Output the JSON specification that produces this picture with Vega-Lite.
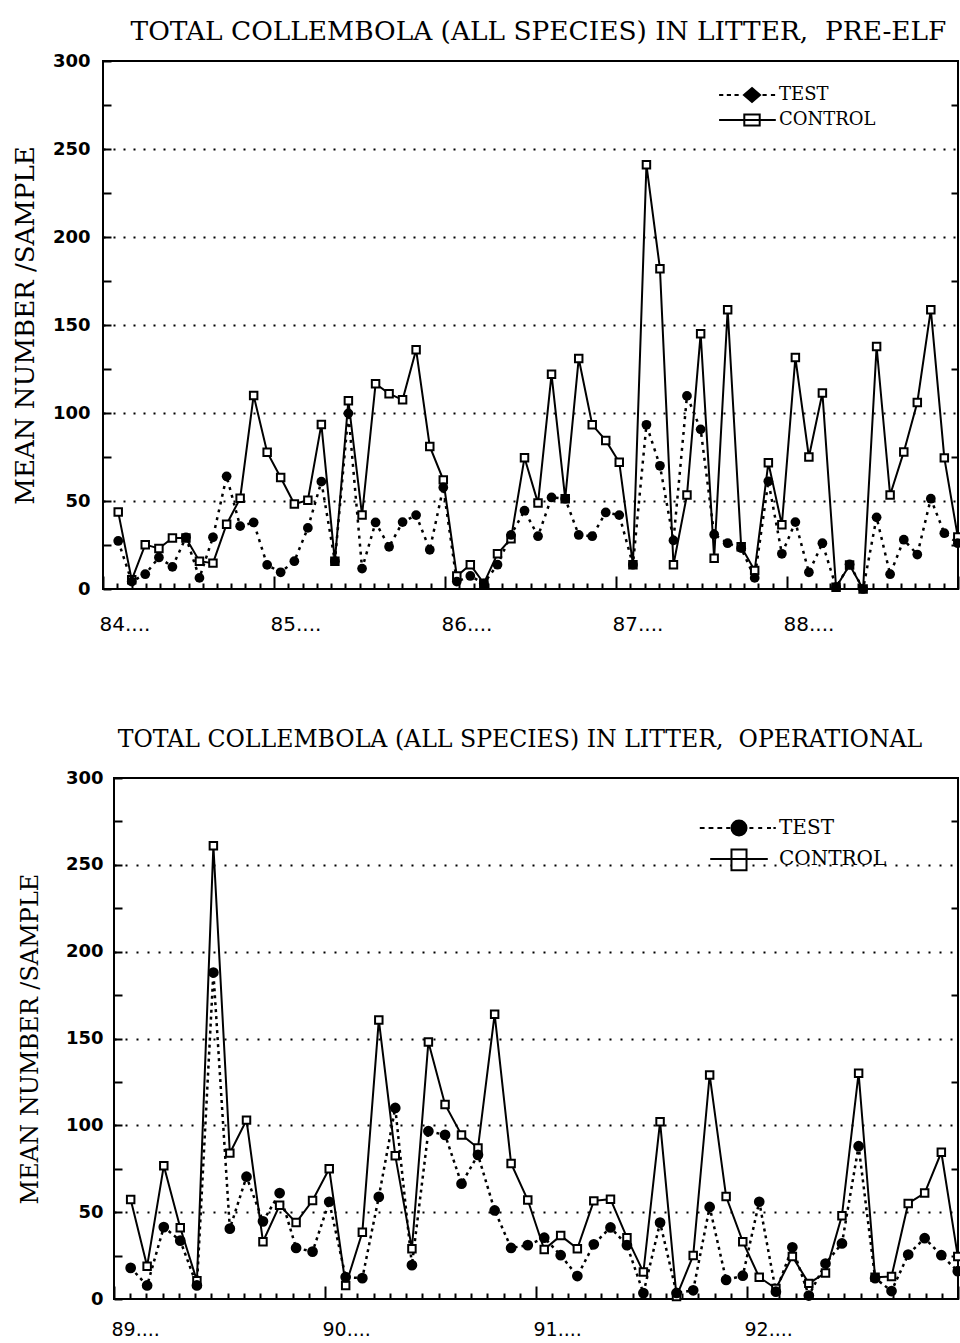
{
  "$schema": "https://vega.github.io/schema/vega-lite/v6.json",
  "background": "white",
  "padding": {"left": 11, "top": 17, "right": 0, "bottom": 0},
  "config": {
    "font": "DejaVu Sans",
    "view": {"stroke": "black", "strokeWidth": 2},
    "axis": {"labelColor": "black", "titleColor": "black", "tickColor": "black"}
  },
  "datasets": {
    "pre": [
      {"year": 84.089, "series": "CONTROL", "count": 43.7}, {"year": 84.089, "series": "TEST", "count": 27.3},
      {"year": 84.168, "series": "CONTROL", "count": 5.2}, {"year": 84.168, "series": "TEST", "count": 4.2},
      {"year": 84.247, "series": "CONTROL", "count": 25.2}, {"year": 84.247, "series": "TEST", "count": 8.4},
      {"year": 84.327, "series": "CONTROL", "count": 23}, {"year": 84.327, "series": "TEST", "count": 17.9},
      {"year": 84.406, "series": "CONTROL", "count": 29}, {"year": 84.406, "series": "TEST", "count": 12.6},
      {"year": 84.485, "series": "CONTROL", "count": 29}, {"year": 84.485, "series": "TEST", "count": 29.4},
      {"year": 84.564, "series": "CONTROL", "count": 15.8}, {"year": 84.564, "series": "TEST", "count": 6.3},
      {"year": 84.643, "series": "CONTROL", "count": 14.7}, {"year": 84.643, "series": "TEST", "count": 29.4},
      {"year": 84.723, "series": "CONTROL", "count": 36.8}, {"year": 84.723, "series": "TEST", "count": 64},
      {"year": 84.802, "series": "CONTROL", "count": 51.5}, {"year": 84.802, "series": "TEST", "count": 35.7},
      {"year": 84.881, "series": "CONTROL", "count": 110}, {"year": 84.881, "series": "TEST", "count": 37.8},
      {"year": 84.960, "series": "CONTROL", "count": 77.7}, {"year": 84.960, "series": "TEST", "count": 13.7},
      {"year": 85.039, "series": "CONTROL", "count": 63.4}, {"year": 85.039, "series": "TEST", "count": 9.5},
      {"year": 85.119, "series": "CONTROL", "count": 48.3}, {"year": 85.119, "series": "TEST", "count": 15.8},
      {"year": 85.198, "series": "CONTROL", "count": 50.4}, {"year": 85.198, "series": "TEST", "count": 34.7},
      {"year": 85.277, "series": "CONTROL", "count": 93.5}, {"year": 85.277, "series": "TEST", "count": 61},
      {"year": 85.356, "series": "CONTROL", "count": 15.8}, {"year": 85.356, "series": "TEST", "count": 15.8},
      {"year": 85.435, "series": "CONTROL", "count": 107}, {"year": 85.435, "series": "TEST", "count": 99.8},
      {"year": 85.515, "series": "CONTROL", "count": 42}, {"year": 85.515, "series": "TEST", "count": 11.6},
      {"year": 85.594, "series": "CONTROL", "count": 116.6}, {"year": 85.594, "series": "TEST", "count": 37.8},
      {"year": 85.673, "series": "CONTROL", "count": 111}, {"year": 85.673, "series": "TEST", "count": 24},
      {"year": 85.752, "series": "CONTROL", "count": 107.5}, {"year": 85.752, "series": "TEST", "count": 38},
      {"year": 85.831, "series": "CONTROL", "count": 136}, {"year": 85.831, "series": "TEST", "count": 42},
      {"year": 85.911, "series": "CONTROL", "count": 81}, {"year": 85.911, "series": "TEST", "count": 22.3},
      {"year": 85.990, "series": "CONTROL", "count": 62}, {"year": 85.990, "series": "TEST", "count": 57.7},
      {"year": 86.069, "series": "CONTROL", "count": 7.4}, {"year": 86.069, "series": "TEST", "count": 4.2},
      {"year": 86.148, "series": "CONTROL", "count": 13.8}, {"year": 86.148, "series": "TEST", "count": 7.4},
      {"year": 86.227, "series": "CONTROL", "count": 3.2}, {"year": 86.227, "series": "TEST", "count": 3.2},
      {"year": 86.307, "series": "CONTROL", "count": 20}, {"year": 86.307, "series": "TEST", "count": 13.8},
      {"year": 86.386, "series": "CONTROL", "count": 28.6}, {"year": 86.386, "series": "TEST", "count": 30.7},
      {"year": 86.465, "series": "CONTROL", "count": 74.6}, {"year": 86.465, "series": "TEST", "count": 44.5},
      {"year": 86.544, "series": "CONTROL", "count": 48.8}, {"year": 86.544, "series": "TEST", "count": 30},
      {"year": 86.623, "series": "CONTROL", "count": 122}, {"year": 86.623, "series": "TEST", "count": 52},
      {"year": 86.703, "series": "CONTROL", "count": 51.3}, {"year": 86.703, "series": "TEST", "count": 51.3},
      {"year": 86.782, "series": "CONTROL", "count": 131}, {"year": 86.782, "series": "TEST", "count": 30.7},
      {"year": 86.861, "series": "CONTROL", "count": 93.3}, {"year": 86.861, "series": "TEST", "count": 30},
      {"year": 86.940, "series": "CONTROL", "count": 84.4}, {"year": 86.940, "series": "TEST", "count": 43.5},
      {"year": 87.019, "series": "CONTROL", "count": 72}, {"year": 87.019, "series": "TEST", "count": 42},
      {"year": 87.099, "series": "CONTROL", "count": 13.8}, {"year": 87.099, "series": "TEST", "count": 13.8},
      {"year": 87.178, "series": "CONTROL", "count": 241}, {"year": 87.178, "series": "TEST", "count": 93.3},
      {"year": 87.257, "series": "CONTROL", "count": 182}, {"year": 87.257, "series": "TEST", "count": 70},
      {"year": 87.336, "series": "CONTROL", "count": 13.8}, {"year": 87.336, "series": "TEST", "count": 27.6},
      {"year": 87.415, "series": "CONTROL", "count": 53.4}, {"year": 87.415, "series": "TEST", "count": 109.7},
      {"year": 87.495, "series": "CONTROL", "count": 145}, {"year": 87.495, "series": "TEST", "count": 90.7},
      {"year": 87.574, "series": "CONTROL", "count": 17.5}, {"year": 87.574, "series": "TEST", "count": 31},
      {"year": 87.653, "series": "CONTROL", "count": 158.7}, {"year": 87.653, "series": "TEST", "count": 26},
      {"year": 87.732, "series": "CONTROL", "count": 24}, {"year": 87.732, "series": "TEST", "count": 23.2},
      {"year": 87.811, "series": "CONTROL", "count": 10.5}, {"year": 87.811, "series": "TEST", "count": 6.3},
      {"year": 87.891, "series": "CONTROL", "count": 71.7}, {"year": 87.891, "series": "TEST", "count": 61.2},
      {"year": 87.970, "series": "CONTROL", "count": 36.5}, {"year": 87.970, "series": "TEST", "count": 20},
      {"year": 88.049, "series": "CONTROL", "count": 131.5}, {"year": 88.049, "series": "TEST", "count": 38},
      {"year": 88.128, "series": "CONTROL", "count": 75}, {"year": 88.128, "series": "TEST", "count": 9.5},
      {"year": 88.207, "series": "CONTROL", "count": 111.4}, {"year": 88.207, "series": "TEST", "count": 26},
      {"year": 88.287, "series": "CONTROL", "count": 1}, {"year": 88.287, "series": "TEST", "count": 1},
      {"year": 88.366, "series": "CONTROL", "count": 13.7}, {"year": 88.366, "series": "TEST", "count": 14},
      {"year": 88.445, "series": "CONTROL", "count": 0}, {"year": 88.445, "series": "TEST", "count": 0},
      {"year": 88.524, "series": "CONTROL", "count": 137.8}, {"year": 88.524, "series": "TEST", "count": 40.7},
      {"year": 88.603, "series": "CONTROL", "count": 53.4}, {"year": 88.603, "series": "TEST", "count": 8.4},
      {"year": 88.683, "series": "CONTROL", "count": 77.9}, {"year": 88.683, "series": "TEST", "count": 28},
      {"year": 88.762, "series": "CONTROL", "count": 106}, {"year": 88.762, "series": "TEST", "count": 19.6},
      {"year": 88.841, "series": "CONTROL", "count": 158.7}, {"year": 88.841, "series": "TEST", "count": 51.3},
      {"year": 88.920, "series": "CONTROL", "count": 74.5}, {"year": 88.920, "series": "TEST", "count": 31.7},
      {"year": 88.999, "series": "CONTROL", "count": 29.5}, {"year": 88.999, "series": "TEST", "count": 26}
    ],
    "op": [
      {"year": 89.079, "series": "CONTROL", "count": 57.3}, {"year": 89.079, "series": "TEST", "count": 17.9},
      {"year": 89.157, "series": "CONTROL", "count": 18.9}, {"year": 89.157, "series": "TEST", "count": 7.8},
      {"year": 89.236, "series": "CONTROL", "count": 76.7}, {"year": 89.236, "series": "TEST", "count": 41.4},
      {"year": 89.314, "series": "CONTROL", "count": 41}, {"year": 89.314, "series": "TEST", "count": 33.6},
      {"year": 89.393, "series": "CONTROL", "count": 10.5}, {"year": 89.393, "series": "TEST", "count": 7.8},
      {"year": 89.471, "series": "CONTROL", "count": 261}, {"year": 89.471, "series": "TEST", "count": 188},
      {"year": 89.549, "series": "CONTROL", "count": 84}, {"year": 89.549, "series": "TEST", "count": 40.5},
      {"year": 89.628, "series": "CONTROL", "count": 103}, {"year": 89.628, "series": "TEST", "count": 70.4},
      {"year": 89.706, "series": "CONTROL", "count": 33}, {"year": 89.706, "series": "TEST", "count": 44.7},
      {"year": 89.785, "series": "CONTROL", "count": 54}, {"year": 89.785, "series": "TEST", "count": 61},
      {"year": 89.863, "series": "CONTROL", "count": 44}, {"year": 89.863, "series": "TEST", "count": 29.4},
      {"year": 89.941, "series": "CONTROL", "count": 56.7}, {"year": 89.941, "series": "TEST", "count": 27.3},
      {"year": 90.020, "series": "CONTROL", "count": 75}, {"year": 90.020, "series": "TEST", "count": 56},
      {"year": 90.098, "series": "CONTROL", "count": 7.8}, {"year": 90.098, "series": "TEST", "count": 12.6},
      {"year": 90.177, "series": "CONTROL", "count": 38.4}, {"year": 90.177, "series": "TEST", "count": 12},
      {"year": 90.255, "series": "CONTROL", "count": 160.7}, {"year": 90.255, "series": "TEST", "count": 58.8},
      {"year": 90.333, "series": "CONTROL", "count": 82.5}, {"year": 90.333, "series": "TEST", "count": 110},
      {"year": 90.412, "series": "CONTROL", "count": 29}, {"year": 90.412, "series": "TEST", "count": 19.5},
      {"year": 90.490, "series": "CONTROL", "count": 148}, {"year": 90.490, "series": "TEST", "count": 96.6},
      {"year": 90.569, "series": "CONTROL", "count": 112}, {"year": 90.569, "series": "TEST", "count": 94.5},
      {"year": 90.647, "series": "CONTROL", "count": 94.5}, {"year": 90.647, "series": "TEST", "count": 66.4},
      {"year": 90.725, "series": "CONTROL", "count": 87}, {"year": 90.725, "series": "TEST", "count": 83},
      {"year": 90.804, "series": "CONTROL", "count": 164}, {"year": 90.804, "series": "TEST", "count": 51},
      {"year": 90.882, "series": "CONTROL", "count": 78}, {"year": 90.882, "series": "TEST", "count": 29.4},
      {"year": 90.961, "series": "CONTROL", "count": 57}, {"year": 90.961, "series": "TEST", "count": 31},
      {"year": 91.039, "series": "CONTROL", "count": 28.5}, {"year": 91.039, "series": "TEST", "count": 35.3},
      {"year": 91.117, "series": "CONTROL", "count": 36.5}, {"year": 91.117, "series": "TEST", "count": 25.2},
      {"year": 91.196, "series": "CONTROL", "count": 29}, {"year": 91.196, "series": "TEST", "count": 13.2},
      {"year": 91.274, "series": "CONTROL", "count": 56.5}, {"year": 91.274, "series": "TEST", "count": 31.5},
      {"year": 91.353, "series": "CONTROL", "count": 57.5}, {"year": 91.353, "series": "TEST", "count": 41.2},
      {"year": 91.431, "series": "CONTROL", "count": 35.3}, {"year": 91.431, "series": "TEST", "count": 31},
      {"year": 91.509, "series": "CONTROL", "count": 15.5}, {"year": 91.509, "series": "TEST", "count": 3.4},
      {"year": 91.588, "series": "CONTROL", "count": 102}, {"year": 91.588, "series": "TEST", "count": 44},
      {"year": 91.666, "series": "CONTROL", "count": 1.5}, {"year": 91.666, "series": "TEST", "count": 3.5},
      {"year": 91.745, "series": "CONTROL", "count": 25}, {"year": 91.745, "series": "TEST", "count": 5},
      {"year": 91.823, "series": "CONTROL", "count": 129}, {"year": 91.823, "series": "TEST", "count": 53},
      {"year": 91.901, "series": "CONTROL", "count": 59}, {"year": 91.901, "series": "TEST", "count": 11},
      {"year": 91.980, "series": "CONTROL", "count": 33}, {"year": 91.980, "series": "TEST", "count": 13.4},
      {"year": 92.058, "series": "CONTROL", "count": 12.5}, {"year": 92.058, "series": "TEST", "count": 56},
      {"year": 92.137, "series": "CONTROL", "count": 6}, {"year": 92.137, "series": "TEST", "count": 4.2},
      {"year": 92.215, "series": "CONTROL", "count": 24.5}, {"year": 92.215, "series": "TEST", "count": 29.8},
      {"year": 92.293, "series": "CONTROL", "count": 9}, {"year": 92.293, "series": "TEST", "count": 2},
      {"year": 92.372, "series": "CONTROL", "count": 15}, {"year": 92.372, "series": "TEST", "count": 20.4},
      {"year": 92.450, "series": "CONTROL", "count": 48}, {"year": 92.450, "series": "TEST", "count": 32},
      {"year": 92.529, "series": "CONTROL", "count": 130}, {"year": 92.529, "series": "TEST", "count": 88},
      {"year": 92.607, "series": "CONTROL", "count": 12.5}, {"year": 92.607, "series": "TEST", "count": 12},
      {"year": 92.685, "series": "CONTROL", "count": 13}, {"year": 92.685, "series": "TEST", "count": 4.6},
      {"year": 92.764, "series": "CONTROL", "count": 55}, {"year": 92.764, "series": "TEST", "count": 25.6},
      {"year": 92.842, "series": "CONTROL", "count": 61}, {"year": 92.842, "series": "TEST", "count": 35},
      {"year": 92.921, "series": "CONTROL", "count": 84.5}, {"year": 92.921, "series": "TEST", "count": 25.2},
      {"year": 92.999, "series": "CONTROL", "count": 24.5}, {"year": 92.999, "series": "TEST", "count": 16}
    ]
  },
  "vconcat": [
    {
      "width": 855,
      "height": 528,
      "title": {"text": "TOTAL COLLEMBOLA (ALL SPECIES) IN LITTER,\u00a0 PRE-ELF", "font": "DejaVu Serif", "fontSize": 26.4, "fontWeight": "normal", "color": "black", "anchor": "middle", "frame": "group", "dx": 8, "offset": 7},
      "data": {"name": "pre"},
      "encoding": {
        "x": {
          "field": "year", "type": "quantitative",
          "scale": {"domain": [84, 89], "nice": false, "zero": false},
          "axis": {
            "title": null, "domain": false, "grid": false,
            "values": [84, 84.0833, 84.1667, 84.25, 84.3333, 84.4167, 84.5, 84.5833, 84.6667, 84.75, 84.8333, 84.9167,
                       85, 85.0833, 85.1667, 85.25, 85.3333, 85.4167, 85.5, 85.5833, 85.6667, 85.75, 85.8333, 85.9167,
                       86, 86.0833, 86.1667, 86.25, 86.3333, 86.4167, 86.5, 86.5833, 86.6667, 86.75, 86.8333, 86.9167,
                       87, 87.0833, 87.1667, 87.25, 87.3333, 87.4167, 87.5, 87.5833, 87.6667, 87.75, 87.8333, 87.9167,
                       88, 88.0833, 88.1667, 88.25, 88.3333, 88.4167, 88.5, 88.5833, 88.6667, 88.75, 88.8333, 88.9167, 89],
            "tickSize": {"condition": {"test": "datum.value % 1 === 0", "value": -13}, "value": -6},
            "tickWidth": 2,
            "labelExpr": "datum.value % 1 === 0 && datum.value < 89 ? format(datum.value, 'd') + '....' : ''",
            "labelAlign": "left", "labelBaseline": "top", "labelOffset": -4,
            "labelFont": "DejaVu Sans", "labelFontSize": 20, "labelPadding": 38,
            "labelOverlap": false, "labelFlush": false, "labelBound": false
          }
        }
      },
      "layer": [
        {
          "transform": [{"filter": "datum.series === 'TEST'"}],
          "mark": {"type": "line", "stroke": "black", "strokeWidth": 2.5, "strokeDash": [3, 5]},
          "encoding": {
            "y": {
              "field": "count", "type": "quantitative",
              "scale": {"domain": [0, 300], "nice": false},
              "axis": {
                "title": "MEAN NUMBER /SAMPLE", "titleFont": "DejaVu Serif", "titleFontSize": 26, "titleFontWeight": "normal", "titlePadding": 14,
                "values": [0, 25, 50, 75, 100, 125, 150, 175, 200, 225, 250, 275, 300],
                "labelExpr": "datum.value % 50 === 0 ? datum.label : ''",
                "labelFont": "DejaVu Sans", "labelFontWeight": "bold", "labelFontSize": 18, "labelPadding": 21,
                "tickSize": -8, "tickWidth": 2, "domain": false,
                "grid": true, "gridColor": "black", "gridWidth": 2, "gridDash": [2, 8],
                "gridOpacity": {"condition": {"test": "datum.value % 50 === 0 && datum.value > 0 && datum.value < 300", "value": 1}, "value": 0}
              }
            }
          }
        },
        {
          "transform": [{"filter": "datum.series === 'CONTROL'"}],
          "mark": {"type": "line", "stroke": "black", "strokeWidth": 2},
          "encoding": {"y": {"field": "count", "type": "quantitative", "axis": null}}
        },
        {
          "transform": [{"filter": "datum.series === 'CONTROL'"}],
          "mark": {"type": "point", "shape": "square", "size": 56, "filled": true, "fill": "white", "stroke": "black", "strokeWidth": 2, "opacity": 1},
          "encoding": {"y": {"field": "count", "type": "quantitative", "axis": null}}
        },
        {
          "transform": [{"filter": "datum.series === 'TEST'"}],
          "mark": {"type": "point", "shape": "circle", "size": 95, "filled": true, "fill": "black", "opacity": 1},
          "encoding": {"y": {"field": "count", "type": "quantitative", "axis": null}}
        },
        {
          "mark": {"type": "point", "filled": true, "opacity": 0, "stroke": "black", "strokeWidth": 2, "size": 196},
          "encoding": {
            "y": {
              "field": "count", "type": "quantitative",
              "axis": {"orient": "right", "title": null, "labels": false, "domain": false, "grid": false, "values": [25, 75, 125, 175, 225, 275], "tickSize": -7, "tickWidth": 2}
            },
            "shape": {
              "field": "series", "type": "nominal",
              "scale": {"domain": ["TEST", "CONTROL"], "range": [
                "M-4.7,0H-4.1M-3.6,0H-3.0M-2.5,0H-1.9M0,-1L1.15,0L0,1L-1.15,0ZM1.5,0H2.1M2.7,0H3.3",
                "M-4.7,0H3.4M-1.1,-0.8H1.1V0.8H-1.1Z"
              ]},
              "legend": {
                "title": null, "orient": "none", "legendX": 640, "legendY": 25,
                "labelFont": "DejaVu Serif", "labelFontSize": 18, "labelColor": "black", "labelOffset": 18,
                "symbolSize": 196, "symbolStrokeWidth": 2, "symbolStrokeColor": "black", "symbolOpacity": 1, "rowPadding": 4,
                "encode": {"symbols": {"update": {"stroke": {"value": "black"}, "strokeWidth": {"value": 2}, "opacity": {"value": 1}}}}
              }
            },
            "fill": {
              "field": "series", "type": "nominal",
              "scale": {"domain": ["TEST", "CONTROL"], "range": ["black", "white"]},
              "legend": {
                "title": null, "orient": "none", "legendX": 640, "legendY": 25,
                "labelFont": "DejaVu Serif", "labelFontSize": 18, "labelColor": "black", "labelOffset": 18,
                "symbolSize": 196, "symbolStrokeWidth": 2, "symbolStrokeColor": "black", "symbolOpacity": 1, "rowPadding": 4,
                "encode": {"symbols": {"update": {"stroke": {"value": "black"}, "strokeWidth": {"value": 2}, "opacity": {"value": 1}}}}
              }
            }
          }
        }
      ],
      "resolve": {"axis": {"y": "independent"}}
    },
    {
      "hconcat": [
        {
          "width": 1,
          "height": 1,
          "data": {"values": []},
          "mark": {"type": "point", "opacity": 0},
          "encoding": {},
          "view": {"stroke": null}
        },
        {
          "width": 844,
          "height": 521,
          "title": {"text": "TOTAL COLLEMBOLA (ALL SPECIES) IN LITTER,\u00a0 OPERATIONAL", "font": "DejaVu Serif", "fontSize": 23.6, "fontWeight": "normal", "color": "black", "anchor": "middle", "frame": "group", "dx": -16, "offset": 17},
          "data": {"name": "op"},
          "encoding": {
            "x": {
              "field": "year", "type": "quantitative",
              "scale": {"domain": [89, 93], "nice": false, "zero": false},
              "axis": {
                "title": null, "domain": false, "grid": false,
                "values": [89, 89.0769, 89.1538, 89.2308, 89.3077, 89.3846, 89.4615, 89.5385, 89.6154, 89.6923, 89.7692, 89.8462, 89.9231,
                           90, 90.0769, 90.1538, 90.2308, 90.3077, 90.3846, 90.4615, 90.5385, 90.6154, 90.6923, 90.7692, 90.8462, 90.9231,
                           91, 91.0769, 91.1538, 91.2308, 91.3077, 91.3846, 91.4615, 91.5385, 91.6154, 91.6923, 91.7692, 91.8462, 91.9231,
                           92, 92.0769, 92.1538, 92.2308, 92.3077, 92.3846, 92.4615, 92.5385, 92.6154, 92.6923, 92.7692, 92.8462, 92.9231, 93],
                "tickSize": {"condition": {"test": "datum.value % 1 === 0", "value": -13}, "value": -6},
                "tickWidth": 2,
                "labelExpr": "datum.value % 1 === 0 && datum.value < 93 ? format(datum.value, 'd') + '....' : ''",
                "labelAlign": "left", "labelBaseline": "top", "labelOffset": -3,
                "labelFont": "DejaVu Sans", "labelFontSize": 19, "labelPadding": 34,
                "labelOverlap": false, "labelFlush": false, "labelBound": false
              }
            }
          },
          "layer": [
            {
              "transform": [{"filter": "datum.series === 'TEST'"}],
              "mark": {"type": "line", "stroke": "black", "strokeWidth": 2.5, "strokeDash": [3, 4]},
              "encoding": {
                "y": {
                  "field": "count", "type": "quantitative",
                  "scale": {"domain": [0, 300], "nice": false},
                  "axis": {
                    "title": "MEAN NUMBER /SAMPLE", "titleFont": "DejaVu Serif", "titleFontSize": 24, "titleFontWeight": "normal", "titlePadding": 23,
                    "values": [0, 25, 50, 75, 100, 125, 150, 175, 200, 225, 250, 275, 300],
                    "labelExpr": "datum.value % 50 === 0 ? datum.label : ''",
                    "labelFont": "DejaVu Sans", "labelFontWeight": "bold", "labelFontSize": 18, "labelPadding": 19,
                    "tickSize": -8, "tickWidth": 2, "domain": false,
                    "grid": true, "gridColor": "black", "gridWidth": 2, "gridDash": [2, 9],
                    "gridOpacity": {"condition": {"test": "datum.value % 50 === 0 && datum.value > 0 && datum.value < 300", "value": 1}, "value": 0}
                  }
                }
              }
            },
            {
              "transform": [{"filter": "datum.series === 'CONTROL'"}],
              "mark": {"type": "line", "stroke": "black", "strokeWidth": 2},
              "encoding": {"y": {"field": "count", "type": "quantitative", "axis": null}}
            },
            {
              "transform": [{"filter": "datum.series === 'CONTROL'"}],
              "mark": {"type": "point", "shape": "square", "size": 56, "filled": true, "fill": "white", "stroke": "black", "strokeWidth": 2, "opacity": 1},
              "encoding": {"y": {"field": "count", "type": "quantitative", "axis": null}}
            },
            {
              "transform": [{"filter": "datum.series === 'TEST'"}],
              "mark": {"type": "point", "shape": "circle", "size": 115, "filled": true, "fill": "black", "opacity": 1},
              "encoding": {"y": {"field": "count", "type": "quantitative", "axis": null}}
            },
            {
              "mark": {"type": "point", "filled": true, "opacity": 0, "stroke": "black", "strokeWidth": 2, "size": 256},
              "encoding": {
                "y": {
                  "field": "count", "type": "quantitative",
                  "axis": {"orient": "right", "title": null, "labels": false, "domain": false, "grid": false, "values": [25, 75, 125, 175, 225, 275], "tickSize": -7, "tickWidth": 2}
                },
                "shape": {
                  "field": "series", "type": "nominal",
                  "scale": {"domain": ["TEST", "CONTROL"], "range": [
                    "M-4.9,0H-4.3M-3.8,0H-3.2M-2.7,0H-2.1M-1.6,0H-1.1M0.94,0A0.94,0.94 0 1,1 -0.94,0A0.94,0.94 0 1,1 0.94,0ZM1.3,0H1.8M2.4,0H2.9M3.5,0H4.0M4.3,0H4.6",
                    "M-3.6,0H3.6M-0.94,-1.2H0.94V1.4H-0.94Z"
                  ]},
                  "legend": {
                    "title": null, "orient": "none", "legendX": 626, "legendY": 40,
                    "labelFont": "DejaVu Serif", "labelFontSize": 20, "labelColor": "black", "labelOffset": 30,
                    "symbolSize": 256, "symbolStrokeWidth": 2, "symbolStrokeColor": "black", "symbolOpacity": 1, "rowPadding": 5,
                    "encode": {"symbols": {"update": {"stroke": {"value": "black"}, "strokeWidth": {"value": 2}, "opacity": {"value": 1}}}}
                  }
                },
                "fill": {
                  "field": "series", "type": "nominal",
                  "scale": {"domain": ["TEST", "CONTROL"], "range": ["black", "white"]},
                  "legend": {
                    "title": null, "orient": "none", "legendX": 626, "legendY": 40,
                    "labelFont": "DejaVu Serif", "labelFontSize": 20, "labelColor": "black", "labelOffset": 30,
                    "symbolSize": 256, "symbolStrokeWidth": 2, "symbolStrokeColor": "black", "symbolOpacity": 1, "rowPadding": 5,
                    "encode": {"symbols": {"update": {"stroke": {"value": "black"}, "strokeWidth": {"value": 2}, "opacity": {"value": 1}}}}
                  }
                }
              }
            }
          ],
          "resolve": {"axis": {"y": "independent"}}
        }
      ],
      "spacing": -87
    }
  ],
  "spacing": 85,
  "resolve": {"scale": {"shape": "independent", "fill": "independent"}, "legend": {"shape": "independent", "fill": "independent"}}
}
